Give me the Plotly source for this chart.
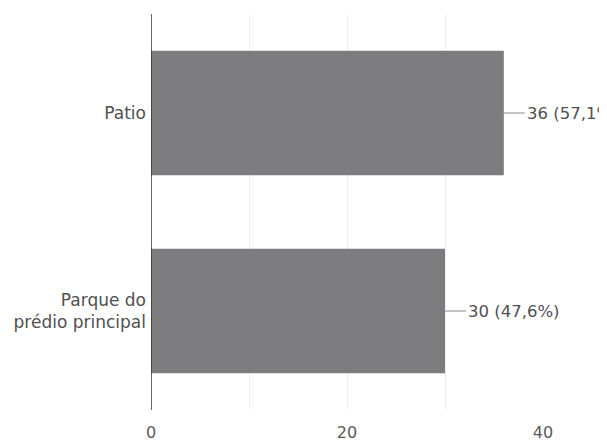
import plotly.graph_objects as go

categories = ["Patio", "Parque do<br>prédio principal"]
counts = [36, 30]
percent_labels = ["36 (57,1%)", "30 (47,6%)"]
x_tick_values = [0, 20, 40]

FONT = "DejaVu Sans"

fig = go.Figure()
fig.add_trace(go.Bar(
    x=counts, y=categories, orientation="h",
    marker=dict(color="#7c7b7d", line=dict(width=0)),
    width=0.63, hoverinfo="skip",
))

for c, v, t in zip(categories, counts, percent_labels):
    fig.add_annotation(
        x=v, y=c, xref="x", yref="y",
        text=t, showarrow=True, arrowhead=0, arrowwidth=1,
        arrowcolor="#8a8a8a", ax=21, ay=0, xanchor="left",
        font=dict(family=FONT, size=16.5, color="#505050"),
        standoff=0,
    )

fig.update_layout(
    width=607, height=442,
    margin=dict(l=143, r=72, t=6, b=40),
    paper_bgcolor="white", plot_bgcolor="white",
    showlegend=False,
    font=dict(family=FONT, size=16, color="#505050"),
)
fig.update_xaxes(
    range=[0, 40], tickvals=x_tick_values,
    showgrid=True, gridcolor="#efefef", gridwidth=1,
    zeroline=False, showline=False,
    ticks="outside", ticklen=8, tickcolor="rgba(0,0,0,0)",
    tickfont=dict(family=FONT, size=16, color="#5a5a5a"),
    minor=dict(dtick=10, showgrid=True, gridcolor="#efefef"),
)
fig.update_yaxes(
    categoryorder="array", categoryarray=categories, autorange="reversed",
    showgrid=False, zeroline=False,
    showline=False, ticks="", ticklen=0, ticklabelstandoff=4,
    tickfont=dict(family=FONT, size=17, color="#505050"),
)
fig.add_vline(x=0, line=dict(color="#333333", width=1.5))

fig.write_html("out.html")
